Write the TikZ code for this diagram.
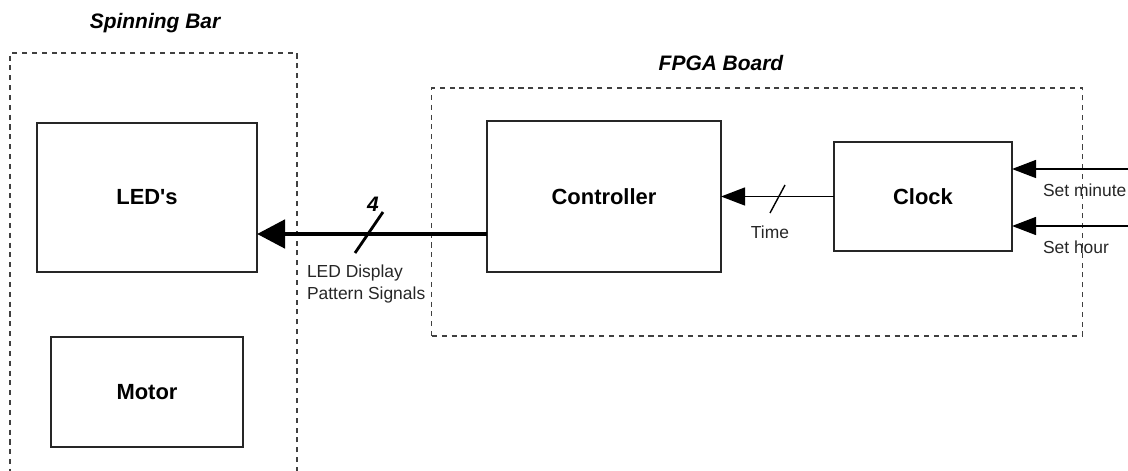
\documentclass[tikz,border=0pt]{standalone}
\usepackage{fontspec}
\setmainfont{Liberation Sans}
\usetikzlibrary{arrows.meta}

\begin{document}
\begin{tikzpicture}[x=0.025cm, y=-0.025cm]
  \tikzstyle{every node}+=[inner sep=0pt, outer sep=0pt]
  \tikzstyle{block}=[draw=black!85, line width=0.8pt, font=\fontsize{15.6}{18}\selectfont\bfseries]
  \tikzstyle{frame}=[draw=black!75, line width=0.8pt, dash pattern=on 3.6pt off 3.4pt]
  \tikzstyle{title}=[font=\fontsize{14.9}{18}\selectfont\bfseries\itshape]
  \tikzstyle{lbl}=[font=\fontsize{12.4}{15.6}\selectfont, text=black!85]
  \tikzstyle{sig}=[line width=1pt, -{Triangle[length=0.6cm, width=0.45cm]}]
  \tikzstyle{bus}=[line width=3.5pt, -{Triangle[length=0.7cm, width=0.7cm]}]
  \useasboundingbox (0,0) rectangle (1128,471);

  \node[frame, minimum width=7.175cm, minimum height=10.925cm] (bar) at (153.5,271.5) {};
  \node[title] (bartitle) at (155,23) {Spinning Bar};
  \node[frame, minimum width=16.25cm, minimum height=6.2cm] (fpga) at (757,212) {};
  \node[title] (fpgatitle) at (721,63) {FPGA Board};

  \node[block, minimum width=5.5cm, minimum height=3.725cm] (leds) at (147,197.5) {LED\textquotesingle s};
  \node[block, minimum width=4.8cm, minimum height=2.75cm] (motor) at (147,392) {Motor};
  \node[block, minimum width=5.85cm, minimum height=3.775cm] (ctrl) at (604,196.5) {Controller};
  \node[block, minimum width=4.45cm, minimum height=2.725cm] (clk) at (923,196.5) {Clock};

  \coordinate (busline) at (0,234);
  \draw[bus] (ctrl.west |- busline) -- (leds.east |- busline);
  \draw[line width=2pt] (355,253) -- (383,212);
  \node[title] (buswidth) at (373,204) {4};
  \node[lbl, anchor=west, align=left] (buslbl) at (307,284) {LED Display\\Pattern Signals};

  \draw[sig] (clk.west) -- (ctrl.east);
  \draw[line width=1pt] (770,213) -- (785,185);
  \node[lbl] (timelbl) at (770,232) {Time};

  \coordinate (minin) at (1128,169);
  \coordinate (hrin) at (1128,226);
  \draw[sig] (minin) -- (clk.east |- minin);
  \draw[sig] (hrin) -- (clk.east |- hrin);
  \node[lbl, anchor=west] (minlbl) at (1043,190) {Set minute};
  \node[lbl, anchor=west] (hrlbl) at (1043,247) {Set hour};
\end{tikzpicture}
\end{document}
